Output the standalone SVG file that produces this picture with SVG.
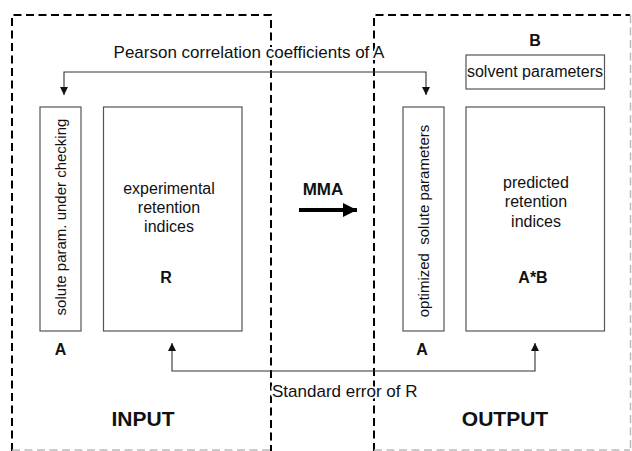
<svg xmlns="http://www.w3.org/2000/svg" width="632" height="451" viewBox="0 0 632 451">
<defs>
<style>
.dash{fill:none;stroke:#000;stroke-width:2;stroke-dasharray:8 4.5}
.dashfaint{fill:none;stroke:#bbb;stroke-width:1.5;stroke-dasharray:8 4.5}
.box{fill:#fff;stroke:#555;stroke-width:1.2}
.conn{fill:none;stroke:#333;stroke-width:1.1}
text{font-family:"Liberation Sans",Arial,sans-serif;fill:#111}
.t{font-size:16px}
.lab{font-size:17px;stroke:#fff;stroke-width:4;paint-order:stroke}
.rot{font-size:15px}
.b{font-weight:bold;font-size:16px}
.big{font-weight:bold;font-size:21px}
</style>
<marker id="ah" viewBox="0 0 10 10" refX="10" refY="5" markerWidth="8" markerHeight="8" markerUnits="userSpaceOnUse" orient="auto-start-reverse">
<path d="M0,0 L10,5 L0,10 Z" fill="#111"/>
</marker>
<marker id="big" viewBox="0 0 10 10" refX="10" refY="5" markerWidth="3.5" markerHeight="3.5" orient="auto">
<path d="M0,0 L10,5 L0,10 Z" fill="#000"/>
</marker>
</defs>
<g id="input-region">
<path class="dash" d="M12,451 V15 H271 V451"/>
<path class="dashfaint" d="M12,450 H271"/>
</g>
<g id="output-region">
<path class="dash" d="M374,451 V15 H630"/>
<path class="dashfaint" d="M630.5,15 V450 M374,450 H630"/>
</g>
<g id="connectors">
<path class="conn" d="M426,95 V72 H64 V95" marker-start="url(#ah)" marker-end="url(#ah)"/>
<path class="conn" d="M172,343 V371 H535 V343" marker-start="url(#ah)" marker-end="url(#ah)"/>
<text x="249" y="58" class="lab" text-anchor="middle">Pearson correlation coefficients of A</text>
<text x="272" y="397" class="lab">Standard error of R</text>
<line x1="299" y1="210" x2="357" y2="210" stroke="#000" stroke-width="4" marker-end="url(#big)"/>
<text x="323" y="195" font-size="17" font-weight="bold" text-anchor="middle">MMA</text>
</g>
<g id="solute-param">
<rect class="box" x="40" y="107" width="41" height="224"/>
<text class="rot" transform="translate(66,217) rotate(-90)" text-anchor="middle">solute param. under checking</text>
<text x="60.5" y="355" class="b" text-anchor="middle">A</text>
</g>
<g id="experimental">
<rect class="box" x="103.5" y="107" width="138.5" height="224"/>
<text x="169" y="194" class="t" text-anchor="middle">experimental</text>
<text x="169" y="213" class="t" text-anchor="middle">retention</text>
<text x="169" y="232" class="t" text-anchor="middle">indices</text>
<text x="166" y="283" class="b" text-anchor="middle">R</text>
</g>
<g id="optimized">
<rect class="box" x="403" y="107" width="41" height="224"/>
<text class="rot" transform="translate(428.5,221) rotate(-90)" text-anchor="middle" xml:space="preserve">optimized  solute parameters</text>
<text x="422" y="355" class="b" text-anchor="middle">A</text>
</g>
<g id="solvent">
<rect class="box" x="466" y="55" width="138.5" height="34"/>
<text x="535" y="77" class="t" text-anchor="middle">solvent parameters</text>
<text x="535" y="46" class="b" text-anchor="middle">B</text>
</g>
<g id="predicted">
<rect class="box" x="466" y="107" width="138.5" height="224"/>
<text x="536" y="188" class="t" text-anchor="middle">predicted</text>
<text x="536" y="207" class="t" text-anchor="middle">retention</text>
<text x="536" y="227" class="t" text-anchor="middle">indices</text>
<text x="533" y="283" class="b" text-anchor="middle">A*B</text>
</g>
<g id="labels">
<text x="143" y="426" class="big" text-anchor="middle">INPUT</text>
<text x="505" y="426" class="big" text-anchor="middle">OUTPUT</text>
</g>
</svg>
